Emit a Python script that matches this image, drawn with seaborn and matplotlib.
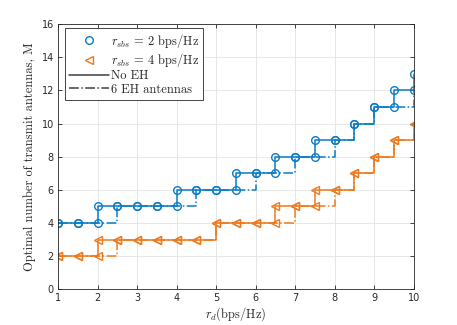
import matplotlib
matplotlib.use("Agg")
import matplotlib.pyplot as plt
from matplotlib.lines import Line2D
import seaborn as sns
import pandas as pd

# rate r_d (bps/Hz)
rd = [1, 1.5, 2, 2.5, 3, 3.5, 4, 4.5, 5, 5.5, 6, 6.5, 7, 7.5, 8, 8.5, 9, 9.5, 10]

# r_sbs = 2 bps/Hz
m2_no_eh = [4, 4, 5, 5, 5, 5, 6, 6, 6, 7, 7, 8, 8, 9, 9, 10, 11, 12, 13]
m2_eh6 = [4, 4, 4, 5, 5, 5, 5, 6, 6, 6, 7, 7, 8, 8, 9, 10, 11, 11, 12]

# r_sbs = 4 bps/Hz
m4_no_eh = [2, 2, 3, 3, 3, 3, 3, 3, 4, 4, 4, 5, 5, 6, 6, 7, 8, 9, 10]
m4_eh6 = [2, 2, 2, 3, 3, 3, 3, 3, 4, 4, 4, 4, 5, 5, 6, 7, 8, 9, 10]

blue = "#0A7CC6"
orange = "#EF7A1E"

sns.set_theme(style="whitegrid")
plt.rcParams["mathtext.fontset"] = "cm"
plt.rcParams["font.family"] = ["DejaVu Sans"]

df = pd.concat([
    pd.DataFrame({"rd": rd, "M": m2_no_eh, "rsbs": 2, "eh": "No EH"}),
    pd.DataFrame({"rd": rd, "M": m2_eh6, "rsbs": 2, "eh": "6 EH antennas"}),
    pd.DataFrame({"rd": rd, "M": m4_no_eh, "rsbs": 4, "eh": "No EH"}),
    pd.DataFrame({"rd": rd, "M": m4_eh6, "rsbs": 4, "eh": "6 EH antennas"}),
])

fig, ax = plt.subplots(figsize=(4.57, 3.25), dpi=100)
fig.subplots_adjust(left=0.127, right=0.905, top=0.926, bottom=0.11)

styles = {"No EH": "-", "6 EH antennas": "-."}
marks = {2: "o", 4: "<"}
colors = {2: blue, 4: orange}
for (r, eh), g in df.groupby(["rsbs", "eh"]):
    sns.lineplot(data=g, x="rd", y="M", ax=ax, color=colors[r], linestyle=styles[eh],
                 marker=marks[r], markersize=5.5, markerfacecolor="none",
                 markeredgecolor=colors[r], markeredgewidth=1.0, lw=1.1,
                 drawstyle="steps-post", estimator=None, sort=False)

ax.set_xlim(1, 10)
ax.set_ylim(0, 16)
ax.set_xticks(range(1, 11))
ax.set_yticks(range(0, 17, 2))
ax.grid(True, color="#e3e3e3", lw=0.6)
for s in ax.spines.values():
    s.set_color("#262626")
    s.set_linewidth(0.6)
ax.tick_params(axis="both", direction="in", length=3, width=0.6, color="#262626",
               labelsize=7, labelcolor="#262626", pad=3, top=True, right=True,
               bottom=True, left=True)

ax.set_xlabel(r"$r_d$(bps/Hz)", fontsize=9, family="cmr10", labelpad=1)
ax.set_ylabel("Optimal number of transmit antennas, M", fontsize=9, family="cmr10", labelpad=4)

handles = [
    Line2D([], [], color=blue, marker="o", linestyle="none", markersize=5.5,
           markerfacecolor="none", markeredgewidth=1.0),
    Line2D([], [], color=orange, marker="<", linestyle="none", markersize=5.5,
           markerfacecolor="none", markeredgewidth=1.0),
    Line2D([], [], color="#404040", linestyle="-", lw=1.1),
    Line2D([], [], color="#404040", linestyle="-.", lw=1.1),
]
labels = [r"$r_{sbs}$ = 2 bps/Hz", r"$r_{sbs}$ = 4 bps/Hz", "No EH", "6 EH antennas"]
leg = ax.legend(handles, labels, loc="upper left", bbox_to_anchor=(0.02, 0.985),
                prop={"family": "cmr10", "size": 9}, frameon=True, fancybox=False,
                edgecolor="#262626", framealpha=1, handlelength=3.2, handletextpad=0.2,
                borderpad=0.3, labelspacing=0.1, borderaxespad=0)
leg.get_frame().set_linewidth(0.6)

fig.savefig("out.png", dpi=100)
